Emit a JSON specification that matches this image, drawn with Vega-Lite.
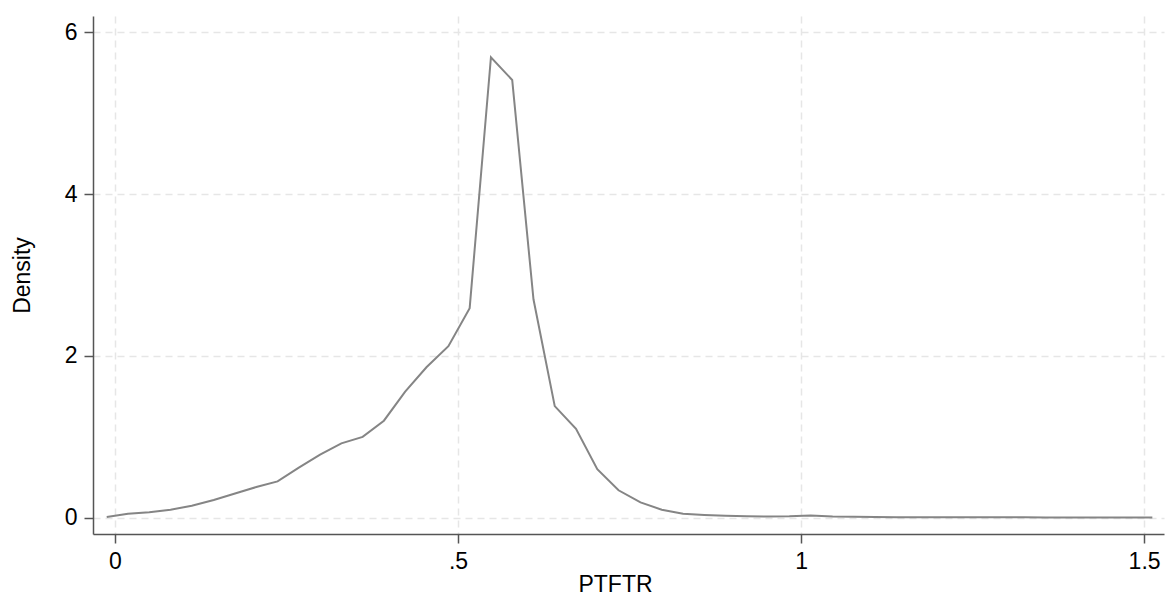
{
  "$schema": "https://vega.github.io/schema/vega-lite/v6.json",
  "width": 1071,
  "height": 518,
  "autosize": {"type": "none"},
  "padding": {"left": 93, "top": 16, "right": 9, "bottom": 63},
  "background": "white",
  "config": {
    "view": {"stroke": null},
    "axis": {
      "domainColor": "#555555",
      "domainWidth": 1.5,
      "tickColor": "#555555",
      "tickWidth": 1.5,
      "tickSize": 9,
      "labelFont": "Liberation Sans",
      "labelFontSize": 23,
      "labelColor": "#000000",
      "titleFont": "Liberation Sans",
      "titleFontSize": 23,
      "titleFontWeight": "normal",
      "titleColor": "#000000",
      "gridColor": "#e6e6e6",
      "gridDash": [7, 5],
      "gridWidth": 1.5
    }
  },
  "data": {
    "values": [
      {"x": -0.012, "y": 0.01},
      {"x": 0.019, "y": 0.05},
      {"x": 0.050, "y": 0.07},
      {"x": 0.081, "y": 0.10},
      {"x": 0.112, "y": 0.15},
      {"x": 0.144, "y": 0.22},
      {"x": 0.175, "y": 0.30},
      {"x": 0.206, "y": 0.38},
      {"x": 0.237, "y": 0.45},
      {"x": 0.268, "y": 0.62},
      {"x": 0.299, "y": 0.78},
      {"x": 0.330, "y": 0.92},
      {"x": 0.361, "y": 1.00},
      {"x": 0.392, "y": 1.20},
      {"x": 0.423, "y": 1.56},
      {"x": 0.454, "y": 1.86},
      {"x": 0.486, "y": 2.12},
      {"x": 0.517, "y": 2.59},
      {"x": 0.548, "y": 5.69},
      {"x": 0.579, "y": 5.41},
      {"x": 0.610, "y": 2.70},
      {"x": 0.641, "y": 1.38},
      {"x": 0.672, "y": 1.10},
      {"x": 0.703, "y": 0.60},
      {"x": 0.734, "y": 0.34},
      {"x": 0.766, "y": 0.19},
      {"x": 0.797, "y": 0.10},
      {"x": 0.828, "y": 0.05},
      {"x": 0.859, "y": 0.035},
      {"x": 0.890, "y": 0.025},
      {"x": 0.921, "y": 0.02},
      {"x": 0.952, "y": 0.015},
      {"x": 0.983, "y": 0.018},
      {"x": 1.014, "y": 0.03},
      {"x": 1.046, "y": 0.015},
      {"x": 1.077, "y": 0.012},
      {"x": 1.108, "y": 0.01},
      {"x": 1.139, "y": 0.008},
      {"x": 1.170, "y": 0.008},
      {"x": 1.201, "y": 0.008},
      {"x": 1.232, "y": 0.007},
      {"x": 1.263, "y": 0.007},
      {"x": 1.294, "y": 0.006},
      {"x": 1.325, "y": 0.006},
      {"x": 1.357, "y": 0.005},
      {"x": 1.388, "y": 0.005},
      {"x": 1.419, "y": 0.005},
      {"x": 1.450, "y": 0.004},
      {"x": 1.481, "y": 0.004},
      {"x": 1.512, "y": 0.004}
    ]
  },
  "mark": {"type": "line", "color": "#858585", "strokeWidth": 2},
  "encoding": {
    "x": {
      "field": "x",
      "type": "quantitative",
      "title": "PTFTR",
      "scale": {"domain": [-0.032, 1.529], "nice": false, "zero": false},
      "axis": {
        "values": [0, 0.5, 1, 1.5],
        "labelExpr": "datum.value == 0.5 ? '.5' : toString(datum.value)",
        "labelPadding": 7,
        "titlePadding": 0,
        "titleX": 522
      }
    },
    "y": {
      "field": "y",
      "type": "quantitative",
      "title": "Density",
      "scale": {"domain": [-0.2, 6.2], "nice": false, "zero": false},
      "axis": {
        "values": [0, 2, 4, 6],
        "labelAngle": 0,
        "labelPadding": 7,
        "titlePadding": 30
      }
    }
  }
}
